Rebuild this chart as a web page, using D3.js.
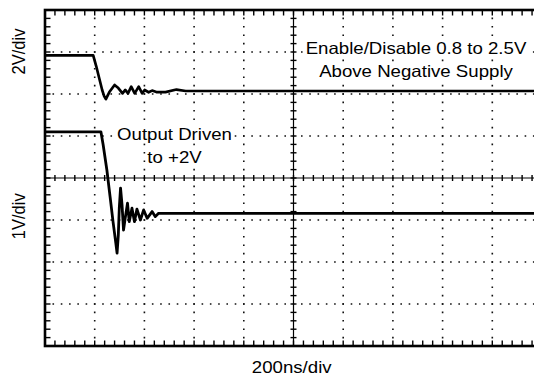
<!DOCTYPE html>
<html><head><meta charset="utf-8">
<script src="https://cdn.jsdelivr.net/npm/d3@7"></script>
<style>body{margin:0;background:#fff}svg{display:block}</style>
</head><body>
<svg id="c" width="534" height="377"></svg>
<script>
// ---- data ----
const nsPerDiv = 200;
const xDivs = 10;
const yDivs = 8;
const ch1VoltsPerDiv = 2;
const ch2VoltsPerDiv = 1;
const ch1Label = "2V/div";
const ch2Label = "1V/div";
const timeLabel = "200ns/div";
const enableNote = ["Enable/Disable 0.8 to 2.5V", "Above Negative Supply"];
const outputNote = ["Output Driven", "to +2V"];

// Channel 1: enable/disable input (V) vs time (ns)
const ch1Time = [0, 194, 206, 218, 230, 238, 245, 259, 280, 295, 312, 323, 334, 347, 361, 377, 391, 401, 417, 431, 448, 485, 529, 566, 606, 2050];
const ch1Volt = [2.5, 2.5, 1.99, 1.42, 0.85, 0.56, 0.41, 0.75, 1.09, 0.94, 0.69, 0.85, 0.69, 1.01, 0.69, 1.01, 0.69, 0.85, 0.74, 0.82, 0.75, 0.75, 0.87, 0.80, 0.80, 0.80];

// Channel 2: output (V) vs time (ns)
const ch2Time = [0, 225, 234, 249, 262, 274, 285, 290, 295, 299, 304, 310, 316, 323, 332, 339, 350, 360, 370, 384, 397, 411, 431, 444, 457, 2050];
const ch2Volt = [1.94, 1.94, 1.63, 1.03, 0.39, -0.21, -0.71, -0.95, -0.52, 0.13, 0.60, 0.20, -0.40, -0.11, 0.24, -0.20, 0.12, -0.20, 0.10, -0.16, 0.08, -0.12, 0.04, -0.08, 0, 0];

// ---- layout ----
const L = 45, R = 542, T = 10, B = 346;
const ch1Offset = 1.671, ch2Offset = -0.84; // screen divisions of each channel's 0 V
const stretch = 1.13;

const svg = d3.select("#c");
const x = d3.scaleLinear().domain([0, xDivs * nsPerDiv]).range([L, R]);
const y = d3.scaleLinear().domain([-yDivs / 2, yDivs / 2]).range([B, T]);

svg.append("clipPath").attr("id", "pc").append("rect")
  .attr("x", L).attr("y", T).attr("width", R - L).attr("height", B - T);

const g = svg.append("g").attr("clip-path", "url(#pc)");

// dotted grid
const xPer = (x(nsPerDiv) - x(0)) / 6;
const yPer = (y(0) - y(1)) / 5;
const vGrid = d3.range(1, xDivs).filter(k => k !== xDivs / 2);
const hGrid = d3.range(-yDivs / 2 + 1, yDivs / 2).filter(k => k !== 0);
g.selectAll(".vg").data(vGrid).join("line")
  .attr("x1", k => x(k * nsPerDiv)).attr("x2", k => x(k * nsPerDiv))
  .attr("y1", T).attr("y2", B)
  .attr("stroke", "#111").attr("stroke-width", 1.6)
  .attr("stroke-dasharray", `1.6 ${yPer - 1.6}`).attr("stroke-dashoffset", 0.8);
g.selectAll(".hg").data(hGrid).join("line")
  .attr("x1", L).attr("x2", R)
  .attr("y1", k => y(k)).attr("y2", k => y(k))
  .attr("stroke", "#111").attr("stroke-width", 1.6)
  .attr("stroke-dasharray", `1.6 ${xPer - 1.6}`).attr("stroke-dashoffset", 0.8);

// center cross
const cx = x(xDivs / 2 * nsPerDiv), cy = y(0);
g.append("line").attr("x1", cx).attr("x2", cx).attr("y1", T).attr("y2", B)
  .attr("stroke", "#000").attr("stroke-width", 1.2);
g.append("line").attr("x1", L).attr("x2", R).attr("y1", cy).attr("y2", cy)
  .attr("stroke", "#000").attr("stroke-width", 1.2);

const xMinor = d3.range(0, xDivs * 5 + 1).map(i => i * nsPerDiv / 5);
const yMinor = d3.range(-yDivs / 2 * 5, yDivs / 2 * 5 + 1).map(j => j / 5);
const tk = g.append("g");
function ticks(data, cls, f) {
  tk.selectAll("line." + cls).data(data).join("line").attr("class", cls)
    .attr("stroke", "#000").attr("stroke-width", 1.4).each(function (d) {
      const c = f(d);
      d3.select(this).attr("x1", c[0]).attr("y1", c[1]).attr("x2", c[2]).attr("y2", c[3]);
    });
}
ticks(xMinor, "tt", d => [x(d), T, x(d), T + 5.5]);
ticks(xMinor, "tb", d => [x(d), B - 5.5, x(d), B]);
ticks(xMinor, "tc", d => [x(d), cy - 3, x(d), cy + 3]);
ticks(yMinor, "tl", d => [L, y(d), L + 5.5, y(d)]);
ticks(yMinor, "tr", d => [R - 5.5, y(d), R, y(d)]);
ticks(yMinor, "tv", d => [cx - 3, y(d), cx + 3, y(d)]);

// text notes with white backgrounds
const font = "Liberation Sans, Arial, sans-serif";
function note(lines, px, baselines) {
  lines.forEach((t, i) => {
    const gg = g.append("g").attr("transform", `translate(${px},${baselines[i]}) scale(${stretch},1)`);
    const r = gg.append("rect").attr("fill", "#fff");
    const tx = gg.append("text").attr("text-anchor", "middle")
      .attr("font-family", font).attr("font-size", 16.5)
      .attr("fill", "#000").text(t);
    const b = tx.node().getBBox();
    r.attr("x", b.x - 1).attr("y", b.y).attr("width", b.width + 2).attr("height", b.height);
  });
}
note(enableNote, 416, [54, 77]);
note(outputNote, 174.5, [139.5, 163]);

// traces
const line1 = d3.line().x(d => x(d[0])).y(d => y(ch1Offset + d[1] / ch1VoltsPerDiv));
const line2 = d3.line().x(d => x(d[0])).y(d => y(ch2Offset + d[1] / ch2VoltsPerDiv));
g.append("path").attr("d", line1(d3.zip(ch1Time, ch1Volt)))
  .attr("fill", "none").attr("stroke", "#000").attr("stroke-width", 2.7).attr("stroke-linejoin", "round");
g.append("path").attr("d", line2(d3.zip(ch2Time, ch2Volt)))
  .attr("fill", "none").attr("stroke", "#000").attr("stroke-width", 2.8).attr("stroke-linejoin", "round");

// frame
svg.append("rect").attr("x", L).attr("y", T).attr("width", R - L).attr("height", B - T)
  .attr("fill", "none").attr("stroke", "#000").attr("stroke-width", 2.6);

// axis labels
svg.append("text").attr("transform", `translate(291.7,373) scale(${stretch},1)`)
  .attr("text-anchor", "middle").attr("font-family", font).attr("font-size", 16.5).text(timeLabel);
[[ch1Label, y(ch1Offset + 1.34)], [ch2Label, y(ch2Offset - 0.07)]].forEach(([t, yy]) => {
  svg.append("text").attr("transform", `translate(25,${yy}) scale(${stretch},1) rotate(-90)`)
    .attr("text-anchor", "middle").attr("font-family", font).attr("font-size", 16.5).text(t);
});
</script>
</body></html>
